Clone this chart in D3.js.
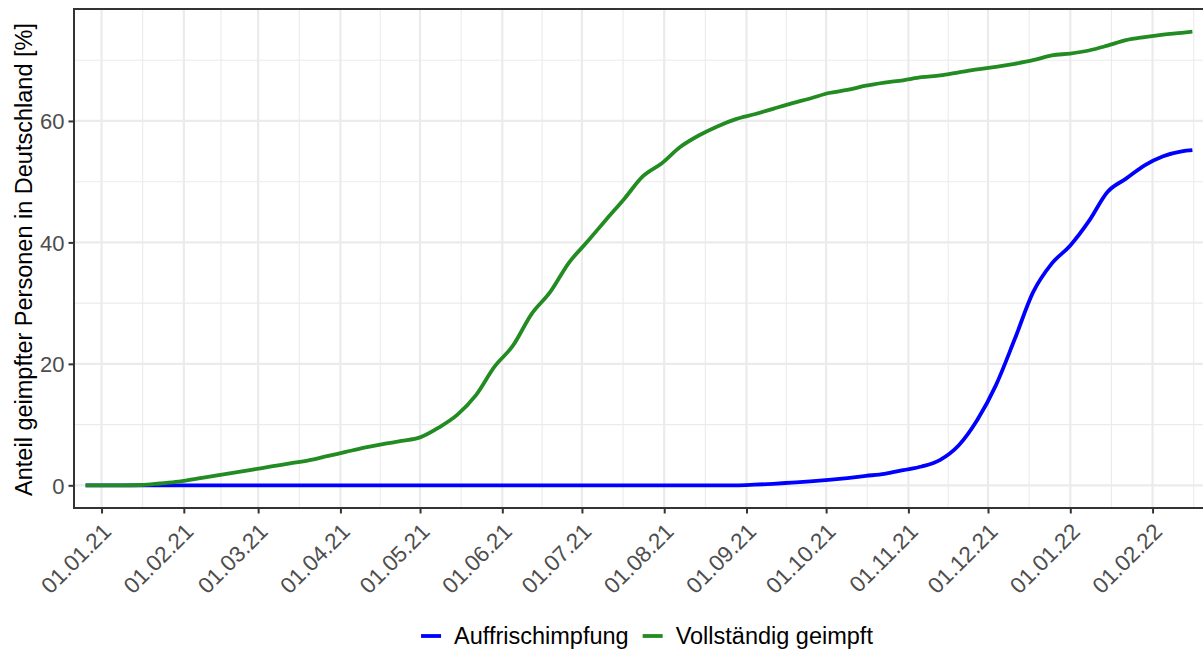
<!DOCTYPE html>
<html>
<head>
<meta charset="utf-8">
<script src="https://cdn.jsdelivr.net/npm/d3@7"></script>
<style>
  body { margin: 0; background: #fff; }
  text { font-family: "Liberation Sans", Arial, sans-serif; }
</style>
</head>
<body>
<svg id="chart" width="1203" height="650"></svg>
<script>
(function() {

// weekly readings, 26.12.2020 - 16.02.2022
var dates = [
  "2020-12-26","2021-01-02","2021-01-09","2021-01-16","2021-01-23","2021-01-30",
  "2021-02-06","2021-02-13","2021-02-20","2021-02-27","2021-03-06","2021-03-13",
  "2021-03-20","2021-03-27","2021-04-03","2021-04-10","2021-04-17","2021-04-24",
  "2021-05-01","2021-05-08","2021-05-15","2021-05-22","2021-05-29","2021-06-05",
  "2021-06-12","2021-06-19","2021-06-26","2021-07-03","2021-07-10","2021-07-17",
  "2021-07-24","2021-07-31","2021-08-07","2021-08-14","2021-08-21","2021-08-28",
  "2021-09-04","2021-09-11","2021-09-18","2021-09-25","2021-10-02","2021-10-09",
  "2021-10-16","2021-10-23","2021-10-30","2021-11-06","2021-11-13","2021-11-20",
  "2021-11-27","2021-12-04","2021-12-11","2021-12-18","2021-12-25","2022-01-01",
  "2022-01-08","2022-01-15","2022-01-22","2022-01-29","2022-02-05","2022-02-12",
  "2022-02-16"
];

// Auffrischimpfung [%]
var booster = [
  0, 0, 0, 0, 0, 0,
  0, 0, 0, 0, 0, 0,
  0, 0, 0, 0, 0, 0,
  0, 0, 0, 0, 0, 0,
  0, 0, 0, 0, 0, 0,
  0, 0, 0, 0, 0, 0,
  0.1, 0.25, 0.45, 0.65, 0.9, 1.2,
  1.55, 1.9, 2.5, 3.1, 4.2, 6.6,
  10.8, 16.5, 24.0, 31.8, 36.5, 39.5,
  43.5, 48.3, 50.5, 52.7, 54.2, 55.0,
  55.2
];

// Vollständig geimpft [%]
var full = [
  0, 0, 0, 0.05, 0.3, 0.6,
  1.1, 1.6, 2.1, 2.6, 3.1, 3.6,
  4.1, 4.8, 5.5, 6.2, 6.8, 7.3,
  7.9, 9.5, 11.6, 14.8, 19.5, 23.0,
  28.2, 31.8, 36.6, 40.1, 43.7, 47.2,
  50.9, 53.0, 55.7, 57.6, 59.1, 60.3,
  61.1, 62.0, 62.9, 63.7, 64.6, 65.1,
  65.8, 66.3, 66.7, 67.2, 67.5, 68.0,
  68.5, 68.9, 69.4, 70.0, 70.8, 71.1,
  71.6, 72.4, 73.3, 73.8, 74.2, 74.5,
  74.7
];

var seriesNames = ["Auffrischimpfung", "Vollständig geimpft"];
var seriesColors = ["#0000ff", "#228b22"];
var yTicks = [0, 20, 40, 60];

var yTitle = "Anteil geimpfter Personen in Deutschland [%]";

// layout (panel runs a little past the right edge, as in the original)
var margin = {left: 74, top: 9},
    width = 1130,
    height = 499;

var parse = d3.utcParse("%Y-%m-%d");
var xDates = dates.map(parse);

var data = [booster, full].map(function(vals, i) {
  return {
    name: seriesNames[i],
    color: seriesColors[i],
    values: vals.map(function(v, j) { return {date: xDates[j], value: v}; })
  };
});

var svg = d3.select("#chart"),
    g = svg.append("g").attr("transform", "translate(" + margin.left + "," + margin.top + ")");

// x: small expansion, y: ggplot's 5% expansion
var ext = d3.extent(xDates),
    pad = (ext[1] - ext[0]) * 0.0105;
var x = d3.scaleUtc()
  .domain([new Date(+ext[0] - pad), new Date(+ext[1] + pad)])
  .range([0, width]);

var yMax = d3.max(full), yMin = 0, yPad = (yMax - yMin) * 0.05;
var y = d3.scaleLinear()
  .domain([yMin - yPad, yMax + yPad])
  .range([height, 0]);

var majorX = x.ticks(d3.utcMonth.every(1));
var bd = majorX[1] - majorX[0];
var extX = [new Date(+majorX[0] - bd)].concat(majorX, [new Date(+majorX[majorX.length - 1] + bd)]);
var minorX = [];
for (var i = 0; i < extX.length - 1; i++) {
  var m = new Date((+extX[i] + +extX[i + 1]) / 2);
  if (m >= x.domain()[0] && m <= x.domain()[1]) minorX.push(m);
}
var minorY = [];
for (var k = 0; k < yTicks.length + 1; k++) {
  var v = yTicks[0] - 10 + k * 20;
  if (v >= y.domain()[0] && v <= y.domain()[1]) minorY.push(v);
}

// grid
g.selectAll(".minor-x").data(minorX).enter().append("line")
  .attr("x1", function(d) { return x(d); }).attr("x2", function(d) { return x(d); })
  .attr("y1", 0).attr("y2", height)
  .attr("stroke", "#ebebeb").attr("stroke-width", 1.1);
g.selectAll(".minor-y").data(minorY).enter().append("line")
  .attr("x1", 0).attr("x2", width)
  .attr("y1", function(d) { return y(d); }).attr("y2", function(d) { return y(d); })
  .attr("stroke", "#ebebeb").attr("stroke-width", 1.1);
g.selectAll(".major-x").data(majorX).enter().append("line")
  .attr("x1", function(d) { return x(d); }).attr("x2", function(d) { return x(d); })
  .attr("y1", 0).attr("y2", height)
  .attr("stroke", "#ebebeb").attr("stroke-width", 2.2);
g.selectAll(".major-y").data(yTicks).enter().append("line")
  .attr("x1", 0).attr("x2", width)
  .attr("y1", function(d) { return y(d); }).attr("y2", function(d) { return y(d); })
  .attr("stroke", "#ebebeb").attr("stroke-width", 2.2);

// lines
svg.append("clipPath").attr("id", "panel-clip")
  .append("rect").attr("width", width).attr("height", height);

var line = d3.line()
  .curve(d3.curveMonotoneX)
  .x(function(d) { return x(d.date); })
  .y(function(d) { return y(d.value); });

g.append("g").attr("clip-path", "url(#panel-clip)")
  .selectAll(".series")
  .data(data)
  .enter().append("path")
    .attr("class", "series")
    .attr("fill", "none")
    .attr("stroke", function(d) { return d.color; })
    .attr("stroke-width", 3.8)
    .attr("stroke-linejoin", "round")
    .attr("d", function(d) { return line(d.values); });

// panel border
g.append("rect")
  .attr("width", width).attr("height", height)
  .attr("fill", "none").attr("stroke", "#333333").attr("stroke-width", 2);

// axes
var xAxis = g.append("g")
  .attr("transform", "translate(0," + height + ")")
  .call(d3.axisBottom(x).tickValues(majorX).tickFormat(d3.utcFormat("%d.%m.%y")).tickSize(5.5));
xAxis.select(".domain").remove();
xAxis.selectAll("line").attr("stroke", "#333333").attr("stroke-width", 2);
xAxis.selectAll("text")
  .attr("x", 0).attr("y", 0).attr("dy", 0)
  .attr("transform", "translate(10.5,25) rotate(-45)")
  .style("text-anchor", "end")
  .attr("fill", "#4d4d4d")
  .style("font-size", "22.5px");

var yAxis = g.append("g")
  .call(d3.axisLeft(y).tickValues(yTicks).tickSize(5.5).tickPadding(4));
yAxis.select(".domain").remove();
yAxis.selectAll("line").attr("stroke", "#333333").attr("stroke-width", 2);
yAxis.selectAll("text")
  .attr("dy", "0.36em")
  .attr("fill", "#4d4d4d")
  .style("font-size", "22px");

svg.append("text")
  .attr("transform", "translate(32," + (margin.top + height / 2 + 1) + ") rotate(-90)")
  .attr("text-anchor", "middle")
  .attr("fill", "#000")
  .style("font-size", "23.5px")
  .text(yTitle);

// legend
var legend = svg.append("g").attr("transform", "translate(0,636)");
var items = legend.selectAll(".item").data(data).enter().append("g").attr("class", "item");
items.append("line")
  .attr("x1", 0).attr("x2", 20).attr("y1", 0).attr("y2", 0)
  .attr("stroke", function(d) { return d.color; })
  .attr("stroke-width", 3.8);
items.append("text")
  .attr("x", 33).attr("dy", "0.36em")
  .attr("fill", "#000")
  .style("font-size", "23.5px")
  .text(function(d) { return d.name; });

var offs = [], tot = 0;
items.each(function() {
  var w = 33 + this.querySelector("text").getComputedTextLength();
  offs.push(tot);
  tot += w + 14;
});
tot -= 14;
var lx = 647 - tot / 2;
items.attr("transform", function(d, i) { return "translate(" + (lx + offs[i]) + ",0)"; });

})();
</script>
</body>
</html>
